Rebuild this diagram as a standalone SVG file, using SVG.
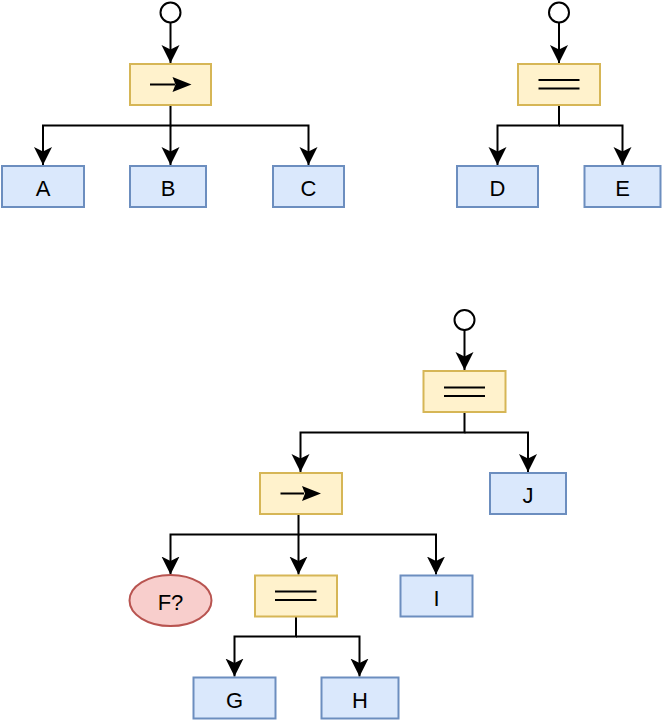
<svg xmlns="http://www.w3.org/2000/svg" width="664" height="721" viewBox="0 0 664 721">
<defs>
<marker id="ah" markerUnits="userSpaceOnUse" markerWidth="20" markerHeight="20" refX="18" refY="10" orient="auto">
<path d="M0,1 L18,10 L0,19 L4.5,10 Z" fill="#000"/>
</marker>
</defs>
<style>
.leaf{fill:#dae8fc;stroke:#6c8ebf;stroke-width:2}
.ctl{fill:#fff2cc;stroke:#d6b656;stroke-width:2}
.cond{fill:#f8cecc;stroke:#b85450;stroke-width:2}
.start{fill:#fff;stroke:#000;stroke-width:2}
.sym{stroke:#000;stroke-width:2;fill:none}
.edge{stroke:#000;stroke-width:2;fill:none;marker-end:url(#ah)}
</style>

<g id="connectors">
<path class="edge" d="M170.5,23 V63"/>
<path class="edge" d="M170.5,105 V125.5 H43 V165"/>
<path class="edge" d="M170.5,125.5 V165"/>
<path class="edge" d="M170.5,125.5 H308.5 V165"/>
<path class="edge" d="M559,23 V63"/>
<path class="edge" d="M559,105 V125.5 H497.5 V165"/>
<path class="edge" d="M559,125.5 H622.5 V165"/>
<path class="edge" d="M464.5,330 V370"/>
<path class="edge" d="M464.5,412 V432.5 H300.5 V472"/>
<path class="edge" d="M464.5,432.5 H528 V472"/>
<path class="edge" d="M298.5,514 V534.5 H170.5 V574.5"/>
<path class="edge" d="M298.5,534.5 V574.5"/>
<path class="edge" d="M298.5,534.5 H436 V574.5"/>
<path class="edge" d="M296,616.5 V636.5 H234.5 V676.5"/>
<path class="edge" d="M296,636.5 H359.5 V676.5"/>
</g>

<g font-family="'Liberation Sans', Arial, sans-serif" font-size="22" text-anchor="middle" fill="#000">
<g id="start1"><circle class="start" cx="170.5" cy="12.5" r="10"/></g>
<g id="seq1">
<rect class="ctl" x="130" y="64" width="81" height="41"/>
<path class="sym" d="M150,84.5 H175"/>
<path d="M172.5,77 L191.5,84.5 L172.5,92 L175.5,84.5 Z" fill="#000"/>
</g>
<g id="A"><rect class="leaf" x="2" y="166" width="82" height="41"/><text x="43" y="196">A</text></g>
<g id="B"><rect class="leaf" x="130" y="166" width="76" height="41"/><text x="168" y="196">B</text></g>
<g id="C"><rect class="leaf" x="273" y="166" width="71" height="41"/><text x="308.5" y="196">C</text></g>

<g id="start2"><circle class="start" cx="559" cy="12.5" r="10"/></g>
<g id="par1">
<rect class="ctl" x="518" y="64" width="82" height="41"/>
<path class="sym" d="M538.5,80 H579.5 M538.5,88.5 H579.5"/>
</g>
<g id="D"><rect class="leaf" x="457" y="166" width="81" height="41"/><text x="497.5" y="196">D</text></g>
<g id="E"><rect class="leaf" x="584.5" y="166" width="76" height="41"/><text x="622.5" y="196">E</text></g>

<g id="start3"><circle class="start" cx="464.5" cy="320" r="10"/></g>
<g id="par2">
<rect class="ctl" x="423.5" y="371" width="82" height="41"/>
<path class="sym" d="M444,387.5 H485 M444,396 H485"/>
</g>
<g id="seq2">
<rect class="ctl" x="260" y="473" width="82" height="41"/>
<path class="sym" d="M280.5,493.5 H304"/>
<path d="M302,486 L321,493.5 L302,501 L305,493.5 Z" fill="#000"/>
</g>
<g id="J"><rect class="leaf" x="490" y="473" width="76" height="41"/><text x="528" y="503">J</text></g>
<g id="F"><ellipse class="cond" cx="170.5" cy="600.5" rx="41" ry="25.5"/><text x="170.5" y="610">F?</text></g>
<g id="par3">
<rect class="ctl" x="255" y="575.5" width="82" height="41"/>
<path class="sym" d="M275,591.5 H316.5 M275,600 H316.5"/>
</g>
<g id="I"><rect class="leaf" x="400.5" y="575.5" width="72" height="41"/><text x="436.5" y="605.5">I</text></g>
<g id="G"><rect class="leaf" x="193.5" y="677.5" width="82" height="41"/><text x="234.5" y="707.5">G</text></g>
<g id="H"><rect class="leaf" x="321.5" y="677.5" width="77" height="41"/><text x="360" y="707.5">H</text></g>
</g>
</svg>
